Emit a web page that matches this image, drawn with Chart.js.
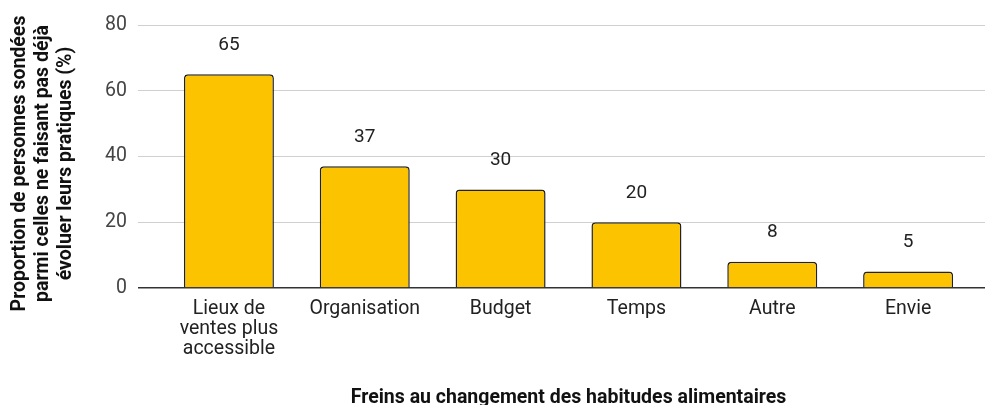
<!DOCTYPE html>
<html>
<head>
<meta charset="utf-8">
<script src="https://cdn.jsdelivr.net/npm/chart.js@4"></script>
<style>
  html, body { margin: 0; padding: 0; background: #fff; }
  #wrap { width: 985px; height: 405px; }
</style>
</head>
<body>
<div id="wrap"><canvas id="freinsChart" width="985" height="405"></canvas></div>
<script>
const categories = [
  ['Lieux de', 'ventes plus', 'accessible'],
  'Organisation',
  'Budget',
  'Temps',
  'Autre',
  'Envie'
];
const values = [65, 37, 30, 20, 8, 5];
const yTicks = [0, 20, 40, 60, 80];
const yTitle = ['Proportion de personnes sondées', 'parmi celles ne faisant pas déjà', 'évoluer leurs pratiques (%)'];
const xTitle = 'Freins au changement des habitudes alimentaires';

const FONT = 'Roboto, "Noto Sans", sans-serif';

// value labels above bars, plus both axis titles
const labelsPlugin = {
  id: 'labelsPlugin',
  afterDatasetsDraw(chart) {
    const ctx = chart.ctx;
    const meta = chart.getDatasetMeta(0);
    ctx.save();
    ctx.font = '19px ' + FONT;
    ctx.fillStyle = '#222';
    ctx.textAlign = 'center';
    ctx.textBaseline = 'middle';
    meta.data.forEach((bar, i) => {
      ctx.fillText(String(values[i]), bar.x, bar.y - 29);
    });

    const xs = chart.scales.x;
    const cx = (xs.getPixelForValue(0) + xs.getPixelForValue(values.length - 1)) / 2;
    ctx.font = 'bold 19.5px ' + FONT;
    ctx.fillStyle = '#111';
    ctx.fillText(xTitle, cx, xs.bottom - 7);

    // rotated y title, three lines
    const area = chart.chartArea;
    ctx.translate(20, (area.top + area.bottom) / 2 + 7);
    ctx.rotate(-Math.PI / 2);
    yTitle.forEach((line, i) => ctx.fillText(line, 0, i * 23));
    ctx.restore();
  }
};

new Chart(document.getElementById('freinsChart'), {
  type: 'bar',
  data: {
    datasets: [{
      data: values.map((v, i) => ({ x: i, y: v })),
      backgroundColor: '#FBC300',
      borderColor: '#222',
      borderWidth: 1.5,
      borderRadius: 4,
      borderSkipped: 'bottom',
      categoryPercentage: 1,
      barPercentage: 0.6625
    }]
  },
  options: {
    responsive: false,
    animation: false,
    layout: { padding: { top: 25, right: 0, bottom: 0, left: 0 } },
    plugins: { legend: { display: false }, tooltip: { enabled: false } },
    scales: {
      x: {
        type: 'linear',
        offset: false,
        min: -0.5,
        max: 5.566,
        grid: { display: false },
        border: { display: false },
        afterBuildTicks: (scale) => { scale.ticks = categories.map((_, i) => ({ value: i })); },
        afterFit: (scale) => { scale.height = 117; },
        ticks: {
          autoSkip: false,
          maxRotation: 0,
          padding: 3,
          color: '#222',
          font: { family: FONT, size: 19.5, lineHeight: 1.03 },
          callback: (v) => categories[v]
        }
      },
      y: {
        min: 0,
        max: 80,
        afterBuildTicks: (scale) => { scale.ticks = yTicks.map(v => ({ value: v })); },
        afterFit: (scale) => { scale.width = 161; },
        border: { display: false },
        grid: {
          color: (c) => c.tick && c.tick.value === 0 ? '#333' : '#d0d0d0',
          lineWidth: (c) => c.tick && c.tick.value === 0 ? 1.5 : 1,
          tickLength: 23
        },
        ticks: {
          padding: 11,
          color: '#444',
          font: { family: FONT, size: 19.5 }
        }
      }
    }
  },
  plugins: [labelsPlugin]
});
</script>
</body>
</html>
